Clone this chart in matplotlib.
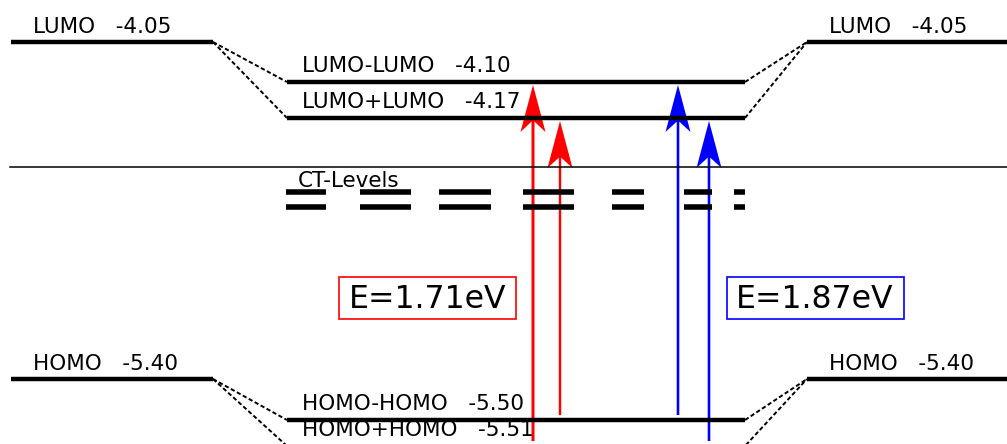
import matplotlib
matplotlib.use("Agg")
import matplotlib.pyplot as plt
from matplotlib.patches import Rectangle

# monomer levels (left and right molecule)
side_names = ["LUMO", "HOMO"]
side_energies = [-4.05, -5.40]

# dimer levels
dimer_names = ["LUMO-LUMO", "LUMO+LUMO", "HOMO-HOMO", "HOMO+HOMO"]
dimer_energies = [-4.10, -4.17, -5.50, -5.51]

# transition energies (eV) and colours
trans_energies = [1.71, 1.87]
trans_colors = ["red", "blue"]

# ---- layout (pixel-like units, schematic diagram) ----
side_rows = [42, 379]
dimer_rows = [82, 118, 420, 446]
left_x = (11, 213)
mid_x = (287, 745)
right_x = (807, 1007)
sep_row = 167
ct_rows = [192, 207]
ct_segments = [(286, 326), (360, 411), (439, 491), (523, 574),
               (612, 644), (684, 712), (734, 745)]
# arrows: x, start row (dimer idx), end row (dimer idx), colour idx, width
arrows = [(533, 3, 0, 0, 3.0), (560, 2, 1, 0, 2.4),
          (678, 2, 0, 1, 2.6), (709, 3, 1, 1, 2.6)]
box_centers = [(427.5, 298), (815, 298)]
box_size = (177, 42)

fig = plt.figure(figsize=(10.07, 4.44), dpi=100)
ax = fig.add_axes([0, 0, 1, 1])
ax.set_xlim(0, 1007)
ax.set_ylim(444, 0)
ax.axis("off")

fs = 15.5
lw_level = 3.2

for name, e, y in zip(side_names, side_energies, side_rows):
    for xs in (left_x, right_x):
        ax.plot(xs, [y, y], color="black", lw=lw_level, solid_capstyle="butt")
        ax.text(xs[0] + 22, y - 9, f"{name}   {e:.2f}", fontsize=fs,
                ha="left", va="baseline")

for i, (name, e, y) in enumerate(zip(dimer_names, dimer_energies, dimer_rows)):
    ax.plot(mid_x, [y, y], color="black", lw=lw_level, solid_capstyle="butt")
    ax.text(mid_x[0] + 15, y - 10, f"{name}   {e:.2f}", fontsize=fs,
            ha="left", va="baseline")
    src = side_rows[i // 2]
    ax.plot([left_x[1], mid_x[0]], [src, y], color="black", lw=1.4,
            dashes=(2.2, 1.3))
    ax.plot([mid_x[1], right_x[0]], [y, src], color="black", lw=1.4,
            dashes=(2.2, 1.3))

# separator and CT levels
ax.plot([10, 1007], [sep_row, sep_row], color="black", lw=1.1)
ax.text(298, 187, "CT-Levels", fontsize=fs, ha="left", va="baseline")
for y in ct_rows:
    for x0, x1 in ct_segments:
        ax.plot([x0, x1], [y, y], color="black", lw=4.0, solid_capstyle="butt")

# excitation arrows
for x, i0, i1, ci, w in arrows:
    y0 = dimer_rows[i0] - 5
    y1 = dimer_rows[i1] + 3
    ax.arrow(x, y0, 0, y1 - y0, width=w, head_width=25, head_length=47,
             overhang=0.22, length_includes_head=True,
             color=trans_colors[ci], lw=0)

# energy boxes
for (cx, cy), e, c in zip(box_centers, trans_energies, trans_colors):
    ax.add_patch(Rectangle((cx - box_size[0] / 2, cy - box_size[1] / 2),
                           box_size[0], box_size[1], fill=False,
                           edgecolor=c, lw=1.2))
    ax.text(cx, cy + 10, f"E={e:.2f}eV", fontsize=22.7, ha="center",
            va="baseline")

fig.savefig("out.png", dpi=100)
